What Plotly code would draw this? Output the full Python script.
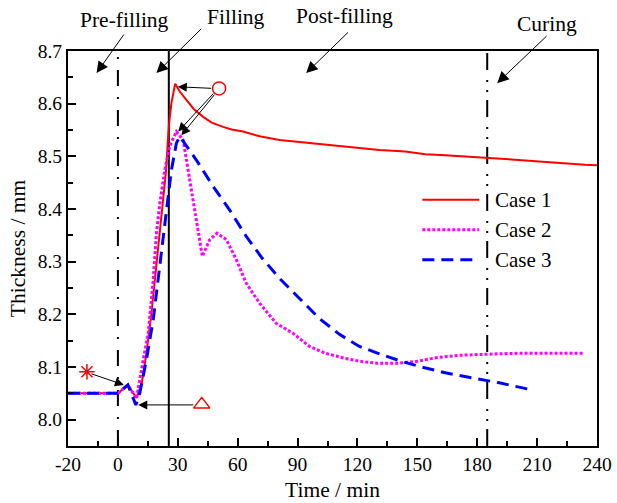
import plotly.graph_objects as go

# ---------------- data ----------------
t_case1 = [-25, 0, 5, 9.3, 12, 14.3, 16.8, 19.8, 21.8, 24, 25.5, 26.8, 28.7, 31, 34.3, 38, 42.7,
           47, 52.7, 57, 62.7, 71, 81, 91, 101, 111, 121, 131, 144, 154, 164, 174, 184, 194,
           204, 214, 224, 234, 240]
y_case1 = [8.05, 8.05, 8.066, 8.041, 8.07, 8.126, 8.202, 8.31, 8.386, 8.468, 8.557, 8.601, 8.638,
           8.623, 8.607, 8.59, 8.575, 8.564, 8.556, 8.551, 8.547, 8.538, 8.531, 8.527, 8.524,
           8.519, 8.515, 8.512, 8.509, 8.504, 8.502, 8.500, 8.498, 8.495, 8.492, 8.489, 8.487,
           8.484, 8.483]

t_case2 = [-25, 0, 5, 9.3, 12.7, 15.2, 17.7, 19.3, 21, 23.5, 26, 29.3, 32.7, 35.2, 37.7, 40.2,
           42.3, 46, 49.7, 54.3, 59.3, 64.3, 71, 79.3, 87.7, 96, 104, 113, 121, 130, 140, 150,
           160, 170, 180, 190, 200, 215, 233]
y_case2 = [8.05, 8.05, 8.066, 8.04, 8.114, 8.164, 8.266, 8.354, 8.411, 8.474, 8.52, 8.547, 8.531,
           8.474, 8.417, 8.354, 8.31, 8.342, 8.354, 8.342, 8.304, 8.259, 8.221, 8.183, 8.164,
           8.139, 8.126, 8.117, 8.111, 8.107, 8.107, 8.111, 8.118, 8.122, 8.124, 8.125, 8.126,
           8.126, 8.126]

t_case3 = [-25, 0, 5, 9, 11, 14.3, 17.7, 21.8, 24.3, 26.8, 29.3, 31, 34.3, 39.3, 47.7, 56, 64.3,
           72, 81, 91, 101, 111, 121, 131, 141, 151, 164, 178, 191, 208]
y_case3 = [8.05, 8.05, 8.066, 8.028, 8.051, 8.114, 8.19, 8.316, 8.398, 8.474, 8.525, 8.538, 8.52,
           8.493, 8.443, 8.398, 8.348, 8.308, 8.268, 8.23, 8.192, 8.162, 8.139, 8.125, 8.112,
           8.101, 8.089, 8.079, 8.07, 8.056]

series_names = ["Case 1", "Case 2", "Case 3"]
x_tickvals = [-25, 0, 30, 60, 90, 120, 150, 180, 210, 240]
x_ticktext = ["-20", "0", "30", "60", "90", "120", "150", "180", "210", "240"]
x_minor = [-10, 15, 45, 75, 105, 135, 165, 195, 225]
y_tickvals = [8.0, 8.1, 8.2, 8.3, 8.4, 8.5, 8.6, 8.7]
y_ticktext = ["8.0", "8.1", "8.2", "8.3", "8.4", "8.5", "8.6", "8.7"]
y_minor = [8.05, 8.15, 8.25, 8.35, 8.45, 8.55, 8.65]

stage_lines = [0, 25.5, 185]
stage_labels = ["Pre-filling", "Filling", "Post-filling", "Curing"]

FONT = "Liberation Serif, Times New Roman, serif"
RED, MAG, BLUE = "#ff0000", "#ff00ff", "#0000ff"
Y0, Y1 = 7.95, 8.70


def ypaper(v):
    return (v - Y0) / (Y1 - Y0)


fig = go.Figure()

fig.add_trace(go.Scatter(x=t_case1, y=y_case1, mode="lines", name=series_names[0],
                         line=dict(color=RED, width=2), showlegend=False))
fig.add_trace(go.Scatter(x=t_case2, y=y_case2, mode="lines", name=series_names[1],
                         line=dict(color=MAG, width=3, dash="3px,2px"), showlegend=False))
fig.add_trace(go.Scatter(x=t_case3, y=y_case3, mode="lines", name=series_names[2],
                         line=dict(color=BLUE, width=3, dash="12px,7px"), showlegend=False))

# marker symbols
fig.add_trace(go.Scatter(x=[-15.5], y=[8.091], mode="markers", showlegend=False,
                         marker=dict(symbol="asterisk-open", size=13, color=RED,
                                     line=dict(color=RED, width=1.5))))
fig.add_trace(go.Scatter(x=[50.7], y=[8.629], mode="markers", showlegend=False,
                         marker=dict(symbol="circle-open", size=13, color=RED,
                                     line=dict(color=RED, width=1.5))))
fig.add_trace(go.Scatter(x=[42], y=[8.029], mode="markers", showlegend=False,
                         marker=dict(symbol="triangle-up-open", size=14, color=RED,
                                     line=dict(color=RED, width=1.5))))

shapes = []
shapes.append(dict(type="line", xref="x", yref="paper", x0=stage_lines[0], x1=stage_lines[0],
                   y0=0, y1=1, line=dict(color="black", width=2, dash="16px,11px,2px,11px"),
                   layer="below"))
shapes.append(dict(type="line", xref="x", yref="paper", x0=stage_lines[1], x1=stage_lines[1],
                   y0=0, y1=1, line=dict(color="black", width=2), layer="below"))
shapes.append(dict(type="line", xref="x", yref="paper", x0=stage_lines[2], x1=stage_lines[2],
                   y0=0, y1=1, line=dict(color="black", width=2,
                                         dash="17px,8px,2px,8px,2px,10px"), layer="below"))

# manual legend
leg_y = [8.4175, 8.3605, 8.3036]
leg_styles = [dict(color=RED, width=2), dict(color=MAG, width=3, dash="3px,2px"),
              dict(color=BLUE, width=3, dash="12px,7px")]
for yy, st in zip(leg_y, leg_styles):
    shapes.append(dict(type="line", xref="x", yref="y", x0=152.5, x1=181, y0=yy, y1=yy, line=st))

annotations = []
for name, yy in zip(series_names, leg_y):
    annotations.append(dict(x=188, y=yy, xref="x", yref="y", text=name, showarrow=False,
                            xanchor="left", yanchor="middle",
                            font=dict(family=FONT, size=21, color="black")))

# stage labels with arrows (above the plot -> paper y)
label_pos = [(3.5, 8.759), (59, 8.765), (113.5, 8.767), (215, 8.751)]
arrow_tail = [(3.5, 8.734), (42.5, 8.745), (116, 8.738), (215.5, 8.731)]
arrow_head = [(-10.7, 8.658), (19.3, 8.658), (94.3, 8.658), (190, 8.639)]
for lab, (lx, ly) in zip(stage_labels, label_pos):
    annotations.append(dict(x=lx, y=ypaper(ly), xref="x", yref="paper", text=lab,
                            showarrow=False, xanchor="center", yanchor="middle",
                            font=dict(family=FONT, size=21.5, color="black")))
for (tx, ty), (hx, hy) in zip(arrow_tail, arrow_head):
    annotations.append(dict(x=hx, y=hy, ax=tx, ay=ty, xref="x", yref="y", axref="x", ayref="y",
                            text="", showarrow=True, arrowhead=2, arrowsize=2.3, arrowwidth=1,
                            arrowcolor="black"))

# marker arrows
marker_arrows = [((-14, 8.088), (3.0, 8.066)),
                 ((38.5, 8.028), (10.2, 8.028)),
                 ((47.5, 8.629), (30.0, 8.632)),
                 ((48.5, 8.622), (30.2, 8.547)),
                 ((49.0, 8.620), (31.8, 8.540))]
for (tx, ty), (hx, hy) in marker_arrows:
    annotations.append(dict(x=hx, y=hy, ax=tx, ay=ty, xref="x", yref="y", axref="x", ayref="y",
                            text="", showarrow=True, arrowhead=2, arrowsize=1.8, arrowwidth=1,
                            arrowcolor="black"))

fig.update_layout(
    width=617, height=503,
    margin=dict(l=68, r=20, t=51, b=57, autoexpand=False),
    paper_bgcolor="white", plot_bgcolor="white",
    font=dict(family=FONT, size=19.5, color="black"),
    shapes=shapes, annotations=annotations, showlegend=False,
)
fig.update_xaxes(range=[-25, 240], tickmode="array", tickvals=x_tickvals, ticktext=x_ticktext,
                 ticks="inside", ticklen=8, tickwidth=1.5, tickcolor="black",
                 minor=dict(tickmode="array", tickvals=x_minor, ticks="inside", ticklen=5,
                            tickwidth=1.5, tickcolor="black"),
                 showline=True, linecolor="black", linewidth=2, mirror=True, showgrid=False,
                 zeroline=False, tickfont=dict(family=FONT, size=19.5), automargin=False,
                 title=dict(text="Time / min", font=dict(family=FONT, size=21.5), standoff=8))
fig.update_yaxes(range=[Y0, Y1], tickmode="array", tickvals=y_tickvals, ticktext=y_ticktext,
                 ticks="inside", ticklen=8, tickwidth=1.5, tickcolor="black",
                 minor=dict(tickmode="array", tickvals=y_minor, ticks="inside", ticklen=5,
                            tickwidth=1.5, tickcolor="black"),
                 showline=True, linecolor="black", linewidth=2, mirror=True, showgrid=False,
                 zeroline=False, tickfont=dict(family=FONT, size=19.5), ticklabelstandoff=0,
                 automargin=False,
                 title=dict(text="Thickness / mm", font=dict(family=FONT, size=21.5), standoff=6))

fig.write_html("out.html")
